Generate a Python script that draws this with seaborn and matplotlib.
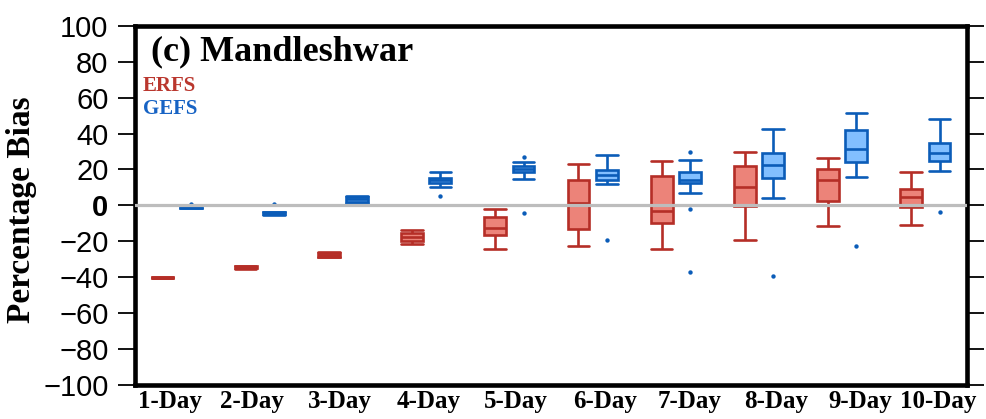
import numpy as np
import pandas as pd
import matplotlib
matplotlib.use("Agg")
import matplotlib.pyplot as plt
import seaborn as sns

# ---------------- data ----------------
days = ["1-Day", "2-Day", "3-Day", "4-Day", "5-Day",
        "6-Day", "7-Day", "8-Day", "9-Day", "10-Day"]
models = ["ERFS", "GEFS"]

erfs_whislo = [-40.6, -35.3, -29.0, -21.4, -24.4, -22.9, -24.4, -19.3, -11.3, -11.0]
erfs_q1     = [-40.5, -35.0, -28.6, -19.6, -16.8, -13.4, -9.9, -0.5, 2.4, -0.9]
erfs_med    = [-40.3, -34.5, -27.5, -17.5, -12.8, 1.5, -3.0, 10.2, 14.0, 4.6]
erfs_q3     = [-40.2, -34.0, -26.5, -15.3, -6.5, 14.4, 16.2, 22.2, 20.5, 9.1]
erfs_whishi = [-40.1, -33.8, -26.1, -13.6, -2.0, 22.9, 24.6, 29.6, 26.3, 18.7]

gefs_whislo = [-1.4, -5.3, 1.5, 10.1, 14.5, 12.1, 7.1, 4.3, 15.9, 19.2]
gefs_q1     = [-1.2, -5.0, 1.9, 12.3, 18.6, 14.1, 12.5, 15.5, 24.3, 24.6]
gefs_med    = [-0.6, -4.5, 3.3, 14.0, 20.5, 16.8, 14.4, 22.5, 31.5, 29.4]
gefs_q3     = [-0.2, -3.8, 4.6, 15.3, 22.2, 19.9, 18.6, 29.2, 42.1, 34.6]
gefs_whishi = [0.0, -3.6, 5.0, 18.4, 24.4, 27.9, 25.1, 42.6, 51.4, 48.2]

gefs_out_day = ["1-Day", "2-Day", "4-Day", "5-Day", "5-Day", "6-Day",
                "7-Day", "7-Day", "7-Day", "8-Day", "9-Day", "10-Day"]
gefs_out_val = [0.6, 0.6, 5.2, 27.0, -4.3, -19.2, 29.6, -2.0, -37.4, -39.5, -22.9, -3.9]

yticks = list(range(-100, 101, 20))

# ---------------- styling ----------------
fill_col = {"ERFS": "#EC8379", "GEFS": "#82BFFF"}
edge_col = {"ERFS": "#B52E27", "GEFS": "#0B5CB8"}
text_col = {"ERFS": "#BA372E", "GEFS": "#1763C4"}
label_shift = [-0.08, -0.09, -0.035, 0.035, 0.08, 0.15, 0.17, 0.20, 0.215, 0.15]
dodge_off = {"ERFS": -0.17, "GEFS": 0.17}

sns.set_style("ticks")
plt.rcParams["font.family"] = ["Liberation Sans", "DejaVu Sans"]
plt.rcParams["text.color"] = "black"
plt.rcParams["axes.labelcolor"] = "black"
plt.rcParams["xtick.color"] = "black"
plt.rcParams["ytick.color"] = "black"

# long-form table built from the summary arrays
stats = {
    "ERFS": [erfs_whislo, erfs_q1, erfs_med, erfs_q3, erfs_whishi],
    "GEFS": [gefs_whislo, gefs_q1, gefs_med, gefs_q3, gefs_whishi],
}
rows = []
for m in models:
    for i, d in enumerate(days):
        for arr in stats[m]:
            rows.append({"day": d, "model": m, "bias": arr[i]})
df = pd.DataFrame(rows)

fig = plt.figure(figsize=(9.87, 4.19), dpi=100)
ax = fig.add_axes([135 / 987, 1 - 384.7 / 419, 832 / 987, 358.7 / 419])

for m in models:
    sub = df[df["model"] == m]
    sns.boxplot(data=sub, x="day", y="bias", hue="model", order=days,
                hue_order=models, palette=fill_col, saturation=1,
                width=0.68, gap=0.23, whis=(0, 100), showfliers=False,
                linecolor=edge_col[m], linewidth=1.9, dodge=True,
                legend=False, ax=ax)

# whisker caps as wide as the boxes
for ln in ax.lines:
    xd = np.asarray(ln.get_xdata(), dtype=float)
    yd = np.asarray(ln.get_ydata(), dtype=float)
    if len(xd) == 2 and yd[0] == yd[1] and xd[0] != xd[1]:
        width = abs(xd[1] - xd[0])
        if width < 0.2:
            c = xd.mean()
            ln.set_xdata([c - 0.13, c + 0.13])

# outliers
out_x = np.array([days.index(d) for d in gefs_out_day]) + dodge_off["GEFS"]
sns.scatterplot(x=out_x, y=gefs_out_val, color=edge_col["GEFS"], s=10,
                linewidth=0, ax=ax, zorder=4, legend=False)

ax.axhline(0, color="#BDBDBD", lw=2.3, zorder=10)

ax.set_xlim(-0.5, 9.5)
ax.set_ylim(-100, 100)
ax.set_yticks(yticks)
ylabels = [str(v).replace("-", "\u2212") for v in yticks]
ax.set_yticklabels(ylabels, fontsize=21, family=["Liberation Sans", "DejaVu Sans"])
for lab in ax.get_yticklabels():
    if lab.get_text() == "0":
        lab.set_fontweight("bold")
ax.set_xticks(np.arange(len(days)) + np.array(label_shift))
ax.set_xticklabels(days, fontsize=18, fontweight="bold",
                   family=["Liberation Serif", "DejaVu Serif"])
ax.set_xlabel("")
ax.set_ylabel("")

ax.tick_params(axis="y", left=True, right=True, direction="out",
               length=12, width=1.3, pad=7, color="black")
ax.tick_params(axis="x", length=0, pad=4)

for s in ax.spines.values():
    s.set_visible(True)
    s.set_linewidth(3.3)
    s.set_color("black")

ax.text(0.019, 0.903, "(c) Mandleshwar", transform=ax.transAxes,
        fontsize=26, fontweight="bold", family=["Liberation Serif", "DejaVu Serif"],
        ha="left", va="baseline", zorder=12)
ax.text(0.0093, 0.819, "ERFS", transform=ax.transAxes, color=text_col["ERFS"],
        fontsize=15, fontweight="bold", family=["Liberation Serif", "DejaVu Serif"],
        ha="left", va="baseline", zorder=12)
ax.text(0.0093, 0.755, "GEFS", transform=ax.transAxes, color=text_col["GEFS"],
        fontsize=15, fontweight="bold", family=["Liberation Serif", "DejaVu Serif"],
        ha="left", va="baseline", zorder=12)

fig.text(22 / 987, 1 - 210 / 419, "Percentage Bias", rotation=90,
         ha="center", va="center", fontsize=24, fontweight="bold",
         family=["Liberation Serif", "DejaVu Serif"])

fig.savefig("out.png", dpi=100)
